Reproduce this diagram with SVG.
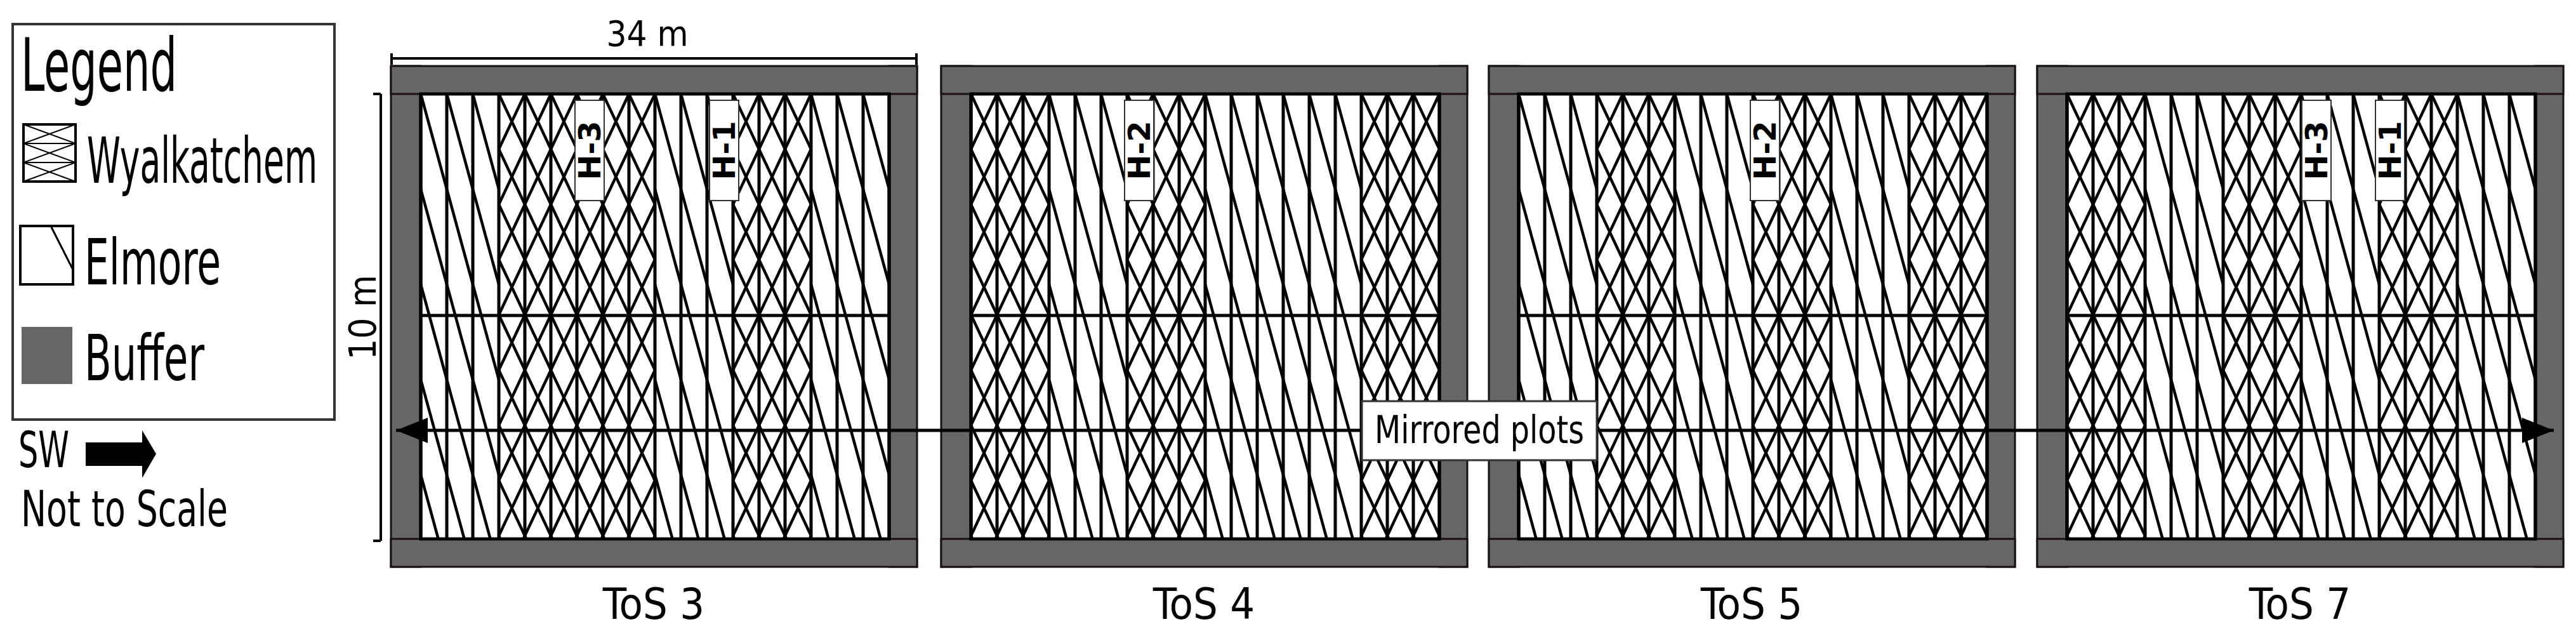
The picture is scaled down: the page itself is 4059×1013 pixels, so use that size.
<svg xmlns="http://www.w3.org/2000/svg" xmlns:xlink="http://www.w3.org/1999/xlink" width="4059" height="1013" viewBox="0 0 4059 1013">
<style>
.t{font-family:"DejaVu Sans Condensed","DejaVu Sans",sans-serif;fill:#000}
.buf{fill:#666;stroke:#1a1010;stroke-width:3}
.ln{stroke:#000;stroke-width:4;fill:none}
.lab{fill:#fff;stroke:#333;stroke-width:2}
.h{font-family:"DejaVu Sans","Liberation Sans",sans-serif;font-weight:bold;font-size:48px}
.tos{font-size:68px}
</style>
<defs>
<pattern id="el" patternUnits="userSpaceOnUse" x="6" y="148" width="41" height="150"><rect width="41" height="150" fill="#fff"/><line x1="0" y1="0" x2="41" y2="150" stroke="#000" stroke-width="4.5"/></pattern>
<pattern id="wy" patternUnits="userSpaceOnUse" x="6" y="148" width="41" height="87"><rect width="41" height="87" fill="#fff"/><line x1="0" y1="0" x2="41" y2="87" stroke="#000" stroke-width="4.5"/><line x1="41" y1="0" x2="0" y2="87" stroke="#000" stroke-width="4.5"/></pattern>
<path id="vl" d="M47 148V849M88 148V849M129 148V849M170 148V849M211 148V849M252 148V849M293 148V849M334 148V849M375 148V849M416 148V849M457 148V849M498 148V849M539 148V849M580 148V849M621 148V849M662 148V849M703 148V849M744 148V849M785 148V849M47 497H785" stroke="#000" stroke-width="5" fill="none"/>
<g id="frame">
<rect class="buf" x="0" y="104" width="47" height="789"/>
<rect class="buf" x="785" y="104" width="44" height="789"/>
<rect class="buf" x="0" y="104" width="829" height="44"/>
<rect class="buf" x="0" y="849" width="829" height="44"/>
</g>
<marker id="ah" markerWidth="10" markerHeight="8" refX="10" refY="4" orient="auto-start-reverse" markerUnits="strokeWidth"><path d="M0 0L10 4L0 8Z" fill="#000"/></marker>
</defs>
<rect width="4059" height="1013" fill="#fff"/>

<g id="legend">
<rect x="20" y="38" width="507" height="623" fill="#fff" stroke="#333" stroke-width="4"/>
<text class="t" x="33" y="143" font-size="115" textLength="246" lengthAdjust="spacingAndGlyphs">Legend</text>
<rect x="37" y="196" width="82" height="90" fill="#fff" stroke="#000" stroke-width="4"/>
<path d="M37 226H119M37 256H119M37 196L119 226L37 256L119 286M119 196L37 226L119 256L37 286" stroke="#000" stroke-width="2" fill="none"/>
<text class="t" x="137" y="288" font-size="100" textLength="363" lengthAdjust="spacingAndGlyphs">Wyalkatchem</text>
<rect x="32" y="356" width="83" height="92" fill="#fff" stroke="#000" stroke-width="4"/>
<line x1="80" y1="356" x2="115" y2="425" stroke="#000" stroke-width="3"/>
<text class="t" x="133" y="448" font-size="100" textLength="215" lengthAdjust="spacingAndGlyphs">Elmore</text>
<rect x="34" y="515" width="80" height="90" fill="#666"/>
<text class="t" x="133" y="599" font-size="100" textLength="189" lengthAdjust="spacingAndGlyphs">Buffer</text>
<text class="t" x="29" y="736" font-size="78" textLength="80" lengthAdjust="spacingAndGlyphs">SW</text>
<path d="M135 697H224V678L246 715L224 753V734H135Z" fill="#000"/>
<text class="t" x="33" y="829" font-size="78" textLength="326" lengthAdjust="spacingAndGlyphs">Not to Scale</text>
</g>

<g id="dims">
<path class="ln" d="M616 92H1445M617 84V102M1444 84V102" stroke-width="3"/>
<text class="t" x="1020" y="72" font-size="56" text-anchor="middle">34 m</text>
<path class="ln" d="M600 148V852M588 148H600M588 852H600" stroke-width="3"/>
<text class="t" transform="translate(592,500) rotate(-90)" font-size="58" text-anchor="middle">10 m</text>
</g>

<g id="tos3" transform="translate(616,0)">
<use xlink:href="#frame"/>
<rect x="47" y="148" width="738" height="701" fill="url(#el)"/>
<rect x="170" y="148" width="246" height="701" fill="url(#wy)"/>
<rect x="539" y="148" width="123" height="701" fill="url(#wy)"/>
<use xlink:href="#vl"/>
<rect x="47" y="148" width="738" height="701" fill="none" stroke="#000" stroke-width="5"/>
<rect class="lab" x="290" y="158" width="46" height="158"/>
<text class="h" transform="translate(313,237) rotate(-90)" text-anchor="middle" dominant-baseline="central">H-3</text>
<rect class="lab" x="502" y="158" width="46" height="158"/>
<text class="h" transform="translate(525,237) rotate(-90)" text-anchor="middle" dominant-baseline="central">H-1</text>
<text class="t tos" x="414" y="975" text-anchor="middle">ToS 3</text>
</g>

<g id="tos4" transform="translate(1483,0)">
<use xlink:href="#frame"/>
<rect x="47" y="148" width="738" height="701" fill="url(#el)"/>
<rect x="47" y="148" width="123" height="701" fill="url(#wy)"/>
<rect x="293" y="148" width="123" height="701" fill="url(#wy)"/>
<rect x="662" y="148" width="123" height="701" fill="url(#wy)"/>
<use xlink:href="#vl"/>
<rect x="47" y="148" width="738" height="701" fill="none" stroke="#000" stroke-width="5"/>
<rect class="lab" x="289" y="158" width="46" height="158"/>
<text class="h" transform="translate(312,237) rotate(-90)" text-anchor="middle" dominant-baseline="central">H-2</text>
<text class="t tos" x="414" y="975" text-anchor="middle">ToS 4</text>
</g>

<g id="tos5" transform="translate(2346,0)">
<use xlink:href="#frame"/>
<rect x="47" y="148" width="738" height="701" fill="url(#el)"/>
<rect x="170" y="148" width="123" height="701" fill="url(#wy)"/>
<rect x="416" y="148" width="123" height="701" fill="url(#wy)"/>
<rect x="662" y="148" width="123" height="701" fill="url(#wy)"/>
<use xlink:href="#vl"/>
<rect x="47" y="148" width="738" height="701" fill="none" stroke="#000" stroke-width="5"/>
<rect class="lab" x="412" y="158" width="46" height="158"/>
<text class="h" transform="translate(435,237) rotate(-90)" text-anchor="middle" dominant-baseline="central">H-2</text>
<text class="t tos" x="414" y="975" text-anchor="middle">ToS 5</text>
</g>

<g id="tos7" transform="translate(3210,0)">
<use xlink:href="#frame"/>
<rect x="47" y="148" width="738" height="701" fill="url(#el)"/>
<rect x="47" y="148" width="123" height="701" fill="url(#wy)"/>
<rect x="293" y="148" width="123" height="701" fill="url(#wy)"/>
<rect x="539" y="148" width="123" height="701" fill="url(#wy)"/>
<use xlink:href="#vl"/>
<rect x="47" y="148" width="738" height="701" fill="none" stroke="#000" stroke-width="5"/>
<rect class="lab" x="417" y="158" width="46" height="158"/>
<text class="h" transform="translate(440,237) rotate(-90)" text-anchor="middle" dominant-baseline="central">H-3</text>
<rect class="lab" x="533" y="158" width="46" height="158"/>
<text class="h" transform="translate(556,237) rotate(-90)" text-anchor="middle" dominant-baseline="central">H-1</text>
<text class="t tos" x="414" y="975" text-anchor="middle">ToS 7</text>
</g>

<g id="connectors">
<line x1="624" y1="678" x2="4024" y2="678" stroke="#000" stroke-width="5" marker-start="url(#ah)" marker-end="url(#ah)"/>
</g>
<g id="mirrored">
<rect x="2146" y="632" width="370" height="93" fill="#fff" stroke="#333" stroke-width="3"/>
<text class="t" x="2331" y="698" font-size="60" text-anchor="middle" textLength="330" lengthAdjust="spacingAndGlyphs">Mirrored plots</text>
</g>
</svg>
